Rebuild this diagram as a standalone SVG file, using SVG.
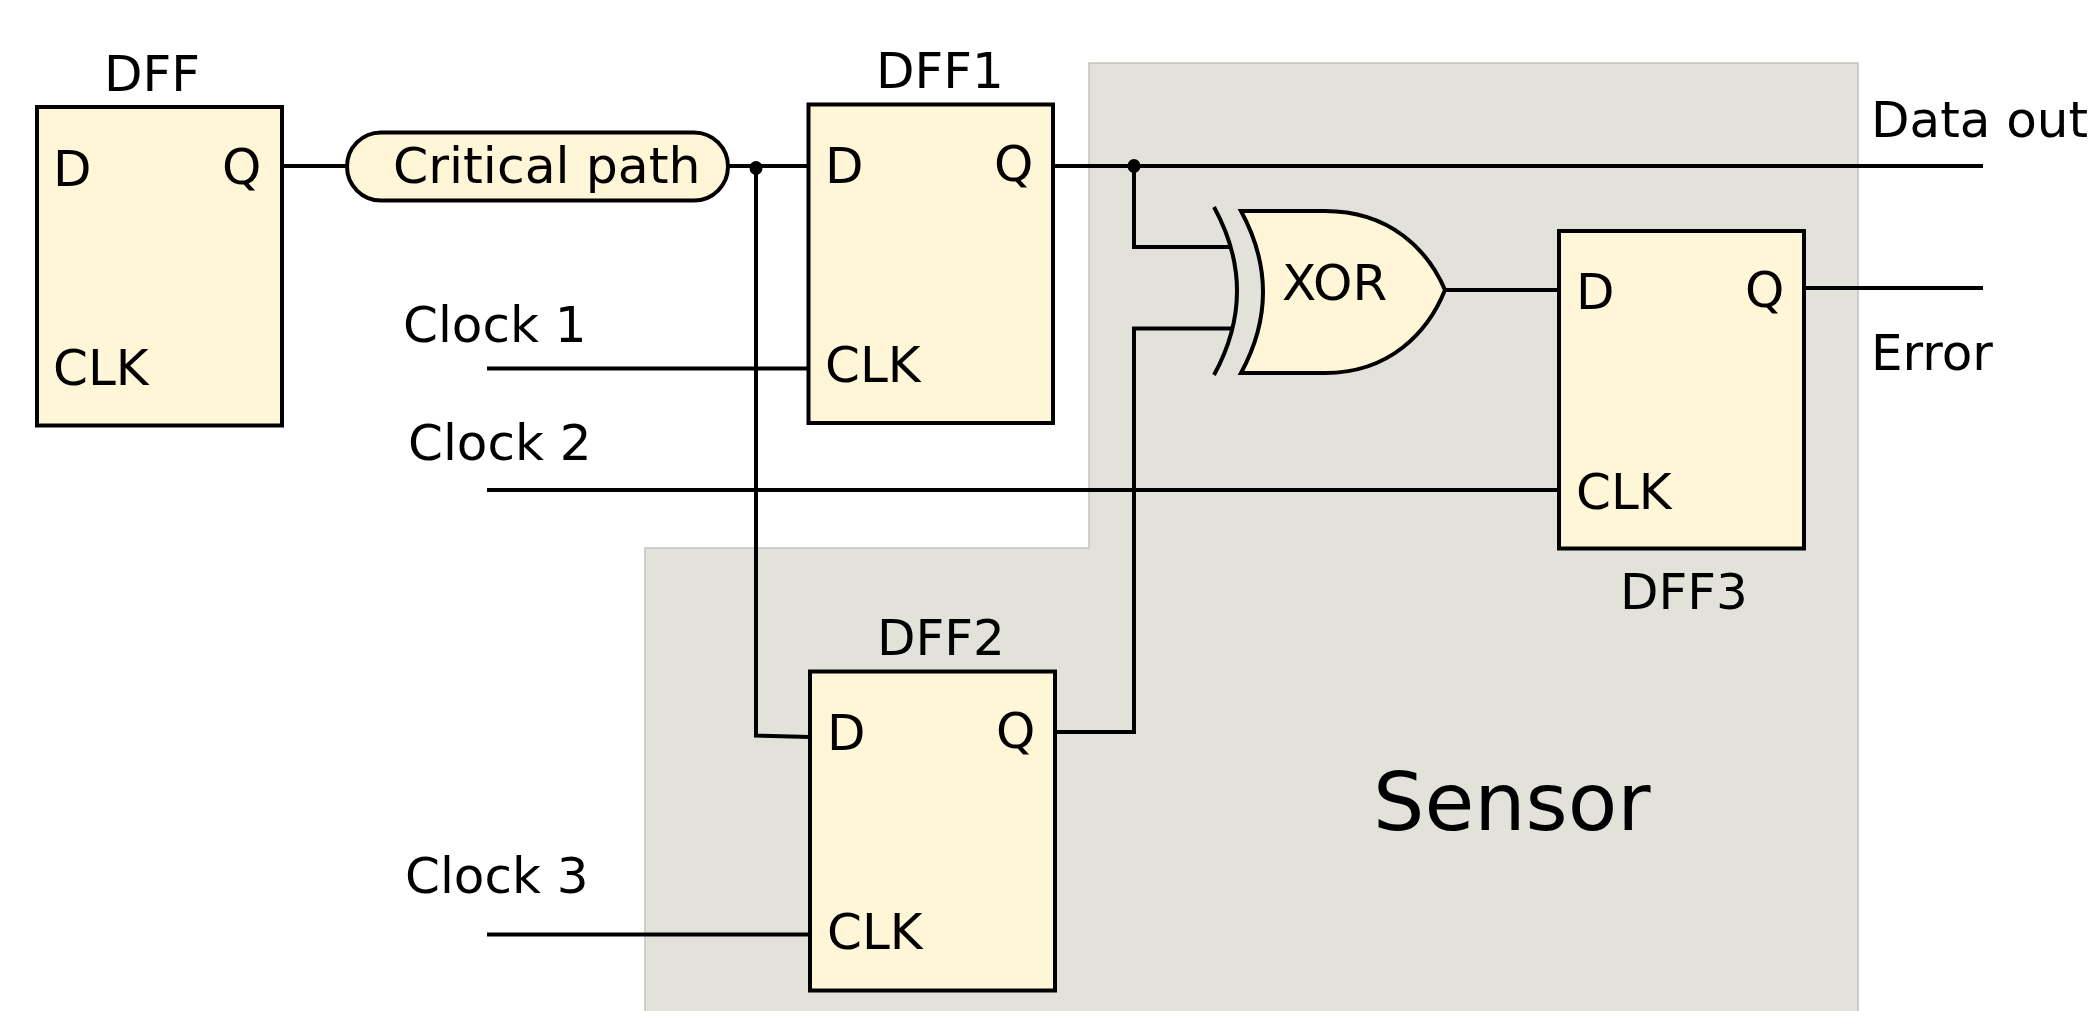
<svg xmlns="http://www.w3.org/2000/svg" width="2091" height="1011" viewBox="0 0 2091 1011">
<style>
text{font-family:"DejaVu Sans",sans-serif;font-size:50px;fill:#000}
.b{fill:#fff5d7;stroke:#000;stroke-width:4}
.w{fill:none;stroke:#000;stroke-width:4}
.j{fill:#000;stroke:none}
</style>
<rect width="2091" height="1011" fill="#fff"/>
<path id="sensor" d="M645 1013V548H1089V63H1858V1013" fill="#e2e2db" stroke="#c4c4bc" stroke-width="1.5"/>
<g id="connectors">
<path class="w" d="M282 166H347M728 166H808"/>
<path class="w" d="M756 166V735.500L810 737"/>
<path class="w" d="M1053 166H1983"/>
<path class="w" d="M1134 166V247H1229"/>
<path class="w" d="M1055 732H1134V328.500H1232"/>
<path class="w" d="M487 368.500H808"/>
<path class="w" d="M487 490H1559"/>
<path class="w" d="M487 934.500H810"/>
<path class="w" d="M1445 290H1559"/>
<path class="w" d="M1804 288H1983"/>
<ellipse class="j" cx="756" cy="168" rx="6.500" ry="7"/>
<ellipse class="j" cx="1134" cy="166" rx="6.500" ry="7"/>
</g>
<g id="dff"><rect class="b" x="37" y="107" width="245" height="318.500"/>
<text x="104" y="91">DFF</text><text x="53" y="186">D</text><text x="222" y="184">Q</text><text x="53" y="385">CLK</text></g>
<g id="critical-path"><rect class="b" x="347" y="132.500" width="381" height="68" rx="34" ry="34"/><text x="393" y="183" style="font-size:50.500px">Critical path</text></g>
<g id="dff1"><rect class="b" x="808.500" y="104.500" width="244.500" height="318.500"/>
<text x="876" y="88">DFF1</text><text x="825" y="183">D</text><text x="994" y="181">Q</text><text x="825" y="382">CLK</text></g>
<g id="dff2"><rect class="b" x="810" y="671.500" width="245" height="319"/>
<text x="877" y="655">DFF2</text><text x="827" y="750">D</text><text x="996" y="748">Q</text><text x="827" y="949">CLK</text></g>
<g id="dff3"><rect class="b" x="1559" y="231" width="245" height="317.500"/>
<text x="1620" y="609">DFF3</text><text x="1576" y="309">D</text><text x="1745" y="307">Q</text><text x="1576" y="509">CLK</text></g>
<g id="xor"><path class="w" d="M1214 207Q1260 291 1214 375"/>
<path class="b" d="M1241 211H1325C1390 211 1428 250 1445 290C1428 332 1390 373 1325 373H1241Q1285 292 1241 211Z"/>
<text x="1282" y="300">XOR</text></g>
<g id="labels"><text x="403" y="342">Clock 1</text><text x="408" y="460">Clock 2</text><text x="405" y="893">Clock 3</text>
<text x="1871" y="137">Data out</text><text x="1871" y="370">Error</text>
<text x="1373" y="830" style="font-size:81px">Sensor</text></g>
</svg>
